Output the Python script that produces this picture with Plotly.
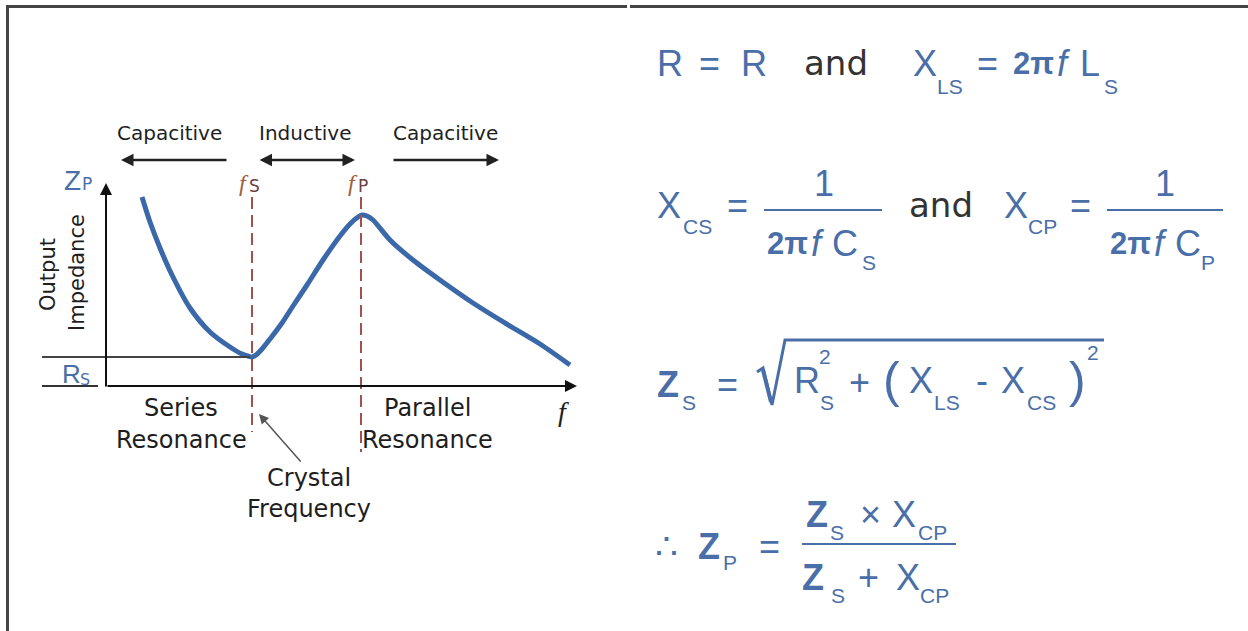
import plotly.graph_objects as go

# impedance curve (arbitrary units: frequency from origin, impedance above axis)
freq = [36, 44, 54, 66, 84, 104, 124, 136, 142, 146, 150, 156, 164, 176, 187, 201, 217, 234, 244, 252, 256, 261, 267, 284, 307, 334, 367, 399, 434, 464]
impedance = [189, 164, 138, 111, 78, 54, 39, 32, 30, 29, 31, 37, 47, 63, 80, 101, 126, 150, 162, 169, 171, 170, 166, 146, 126, 106, 83, 63, 42, 21]

region_labels = ["Capacitive", "Inductive", "Capacitive"]

BLUE = "#4a6fa8"
DARK = "#1e1e1e"
CURVE = "#3b68a8"
DASH = "#a0524f"
FF = "DejaVu Sans"
MF = "Liberation Sans"

fig = go.Figure()

fig.add_trace(go.Scatter(
    x=freq, y=impedance, xaxis="x2", yaxis="y2",
    mode="lines", line=dict(color=CURVE, width=5, shape="spline", smoothing=0.8),
    hoverinfo="skip", showlegend=False, cliponaxis=False
))


def txt(x, y, s, size, color=BLUE, family=MF, xanchor="left", angle=0):
    fig.add_annotation(x=x, y=y, xref="x", yref="y", text=s, showarrow=False,
                       font=dict(size=size, color=color, family=family),
                       xanchor=xanchor, yanchor="middle", textangle=angle)


def line(x0, y0, x1, y1, color, width, dash=None):
    fig.add_shape(type="line", x0=x0, y0=y0, x1=x1, y1=y1, xref="x", yref="y",
                  line=dict(color=color, width=width, dash=dash))


def arrow(x0, y0, x1, y1, color="#222", width=2.5, side="end", head=2, size=1.0):
    fig.add_annotation(x=x1, y=y1, ax=x0, ay=y0, xref="x", yref="y", axref="x", ayref="y",
                       text="", showarrow=True, arrowhead=head, arrowsize=size,
                       arrowwidth=width, arrowcolor=color, arrowside=side, startarrowhead=head,
                       startarrowsize=size)


# frame
line(6, 6.5, 627, 6.5, "#444", 3)
line(630, 6.5, 1248, 6.5, "#444", 3)
line(7.5, 5, 7.5, 631, "#444", 3)

# axes
arrow(106, 388, 106, 183, color="#111", width=2, size=1.2)
arrow(106, 386, 577, 386, color="#111", width=2, size=1.2)
line(42, 386, 98, 386, "#333", 2)
line(42, 357, 250, 357, "#444", 2)

# resonance markers
line(252, 197, 252, 432, DASH, 2, "12px,6px")
line(361, 197, 361, 452, DASH, 2, "12px,6px")

# region labels and arrows
txt(169, 133, region_labels[0], 20, DARK, FF, "center")
txt(305, 133, region_labels[1], 20, DARK, FF, "center")
txt(445, 133, region_labels[2], 20, DARK, FF, "center")
arrow(228, 160, 121, 160)
arrow(258, 160, 355, 160, side="end+start")
arrow(392, 160, 499, 160)

txt(62, 180, "Z", 28, BLUE, MF)
txt(80, 184, "P", 17, BLUE, FF)
txt(60, 374, "R", 26, BLUE, MF)
txt(78, 379, "S", 16, BLUE, FF)
txt(48, 275, "Output", 21, DARK, FF, "center", -90)
txt(77, 273, "Impedance", 21, DARK, FF, "center", -90)

txt(237, 183, "<i>f</i>", 24, "#a0603a", "Liberation Serif")
txt(247, 186, "S", 17, "#6a4040", FF)
txt(346, 183, "<i>f</i>", 24, "#a0603a", "Liberation Serif")
txt(356, 186, "P", 17, "#6a4040", FF)
txt(563, 411, "<i>f</i>", 28, DARK, "Liberation Serif", "center")

txt(181, 408, "Series", 24, DARK, FF, "center")
txt(181, 440, "Resonance", 24, DARK, FF, "center")
txt(427, 408, "Parallel", 24, DARK, FF, "center")
txt(427, 440, "Resonance", 24, DARK, FF, "center")
txt(309, 478, "Crystal", 24, DARK, FF, "center")
txt(309, 509, "Frequency", 24, DARK, FF, "center")
arrow(302, 463, 259, 414, color="#555", width=1.5, head=2, size=1.3)

# formulas
M, S, P = 36, 21, 31
# line 1
txt(655, 63, "R", M); txt(697, 63, "=", M); txt(739, 63, "R", M)
txt(802, 63, "and", 34, "#333", FF)
txt(911, 63, "X", M); txt(935, 86, "LS", S)
txt(975, 63, "=", M); txt(1011, 63, "<b>2π</b>", P); txt(1055, 63, "<i>f</i>", M)
txt(1078, 63, "L", M); txt(1102, 86, "S", S)

# line 2
txt(655, 205, "X", M); txt(681, 226, "CS", S); txt(725, 205, "=", M)
line(764, 210, 882, 210, BLUE, 2)
txt(824, 183, "1", M, xanchor="center")
txt(765, 243, "<b>2π</b>", P); txt(809, 243, "<i>f</i>", M); txt(830, 243, "C", M); txt(860, 262, "S", S)
txt(907, 205, "and", 34, "#333", FF)
txt(1002, 205, "X", M); txt(1026, 226, "CP", S); txt(1068, 205, "=", M)
line(1107, 210, 1223, 210, BLUE, 2)
txt(1165, 183, "1", M, xanchor="center")
txt(1108, 243, "<b>2π</b>", P); txt(1152, 243, "<i>f</i>", M); txt(1173, 243, "C", M); txt(1199, 262, "P", S)

# line 3
txt(655, 384, "<b>Z</b>", M); txt(680, 402, "S", S); txt(715, 384, "=", M)
fig.add_shape(type="path", path="M 757 372 L 763 368 L 772 405 L 785 340 L 1104 340",
              xref="x", yref="y", line=dict(color=BLUE, width=3))
fig.add_shape(type="path", path="M 763 370 L 771 402",
              xref="x", yref="y", line=dict(color=BLUE, width=4))
txt(792, 380, "R", M); txt(817, 356, "2", S); txt(818, 402, "S", S)
txt(847, 382, "+", M)
txt(881, 380, "(", 50)
txt(907, 380, "X", M); txt(932, 402, "LS", S)
txt(974, 380, "-", M)
txt(999, 380, "X", M); txt(1025, 402, "CS", S)
txt(1067, 380, ")", 50)
txt(1085, 352, "2", S)

# line 4
txt(653, 546, "∴", M); txt(696, 546, "<b>Z</b>", M); txt(721, 562, "P", S)
txt(757, 546, "=", M)
line(802, 544, 956, 544, BLUE, 2)
txt(804, 514, "<b>Z</b>", M); txt(828, 532, "S", S); txt(858, 514, "×", M)
txt(890, 514, "X", M); txt(916, 532, "CP", S)
txt(800, 577, "<b>Z</b>", M); txt(829, 595, "S", S); txt(856, 577, "+", M)
txt(894, 577, "X", M); txt(918, 595, "CP", S)

fig.update_layout(
    width=1248, height=631,
    margin=dict(l=0, r=0, t=0, b=0),
    paper_bgcolor="white", plot_bgcolor="white",
    showlegend=False,
    xaxis=dict(range=[0, 1248], domain=[0, 1], visible=False, fixedrange=True),
    yaxis=dict(range=[631, 0], domain=[0, 1], visible=False, fixedrange=True),
    xaxis2=dict(range=[0, 470], domain=[106 / 1248, 576 / 1248], anchor="y2", visible=False, fixedrange=True),
    yaxis2=dict(range=[0, 203], domain=[1 - 386 / 631, 1 - 183 / 631], anchor="x2", visible=False, fixedrange=True),
)

fig.write_html("out.html", config={"displayModeBar": False},
               post_script="document.body.style.margin='0';")
